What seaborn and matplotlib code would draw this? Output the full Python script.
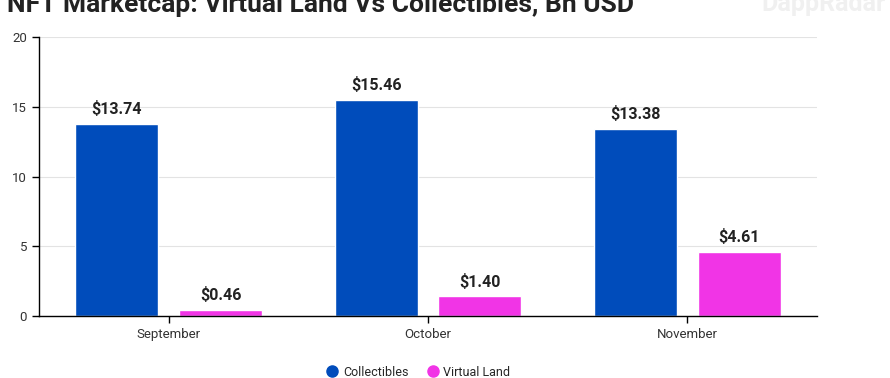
import pandas as pd
import seaborn as sns
import matplotlib.pyplot as plt
from matplotlib.lines import Line2D

# data
months = ["September", "October", "November"]
collectibles = [13.74, 15.46, 13.38]
virtual_land = [0.46, 1.40, 4.61]
series_names = ["Collectibles", "Virtual Land"]
colors = ["#004CBB", "#F134E6"]
y_ticks = [0, 5, 10, 15, 20]

df = pd.DataFrame({
    "month": months * 2,
    "value": collectibles + virtual_land,
    "series": [series_names[0]] * 3 + [series_names[1]] * 3,
})

sns.set_style("white")
plt.rcParams['font.family'] = ['Roboto', 'DejaVu Sans']

fig = plt.figure(figsize=(8.9, 3.78), dpi=100)
ax = fig.add_axes([0.0438, 0.164, 0.8742, 0.738])

sns.barplot(data=df, x="month", y="value", hue="series", palette=colors,
            width=0.8, gap=0.2, ax=ax, legend=False, saturation=1)

for c in ax.containers:
    ax.bar_label(c, labels=[f"${v:.2f}" for v in c.datavalues], padding=5,
                 fontsize=11.5, fontweight='bold', color='#222222')

ax.set_ylim(0, 20)
ax.set_xlim(-0.5, 2.5)
ax.set_yticks(y_ticks)
ax.yaxis.grid(True, color='#e3e3e3', linewidth=0.8)
ax.set_axisbelow(True)
ax.set_xlabel("")
ax.set_ylabel("")
for s in ["top", "right"]:
    ax.spines[s].set_visible(False)
for s in ["left", "bottom"]:
    ax.spines[s].set_color('black')
    ax.spines[s].set_linewidth(1)
ax.tick_params(axis='both', length=5, width=1, color='black', labelsize=9.5,
               labelcolor='#333333', direction='out', left=True, bottom=True)

# watermark
fig.text(0.995, 0.99, "DappRadar", ha='right', va='center', fontsize=18,
         fontweight='bold', color='#f0f0f0')

fig.text(0.008, 1 - 12 / 378, "NFT Marketcap: Virtual Land Vs Collectibles, Bn USD",
         ha='left', va='baseline', fontsize=19, fontweight='bold', color='#222222')

handles = [Line2D([], [], marker='o', linestyle='', markersize=8, color=c) for c in colors]
fig.legend(handles, series_names, loc='center', bbox_to_anchor=(0.468, 1 - 372 / 378),
           ncol=2, frameon=False, fontsize=9, handletextpad=0.1, columnspacing=1.2,
           handlelength=1.5)

fig.savefig("out.png", dpi=100)
